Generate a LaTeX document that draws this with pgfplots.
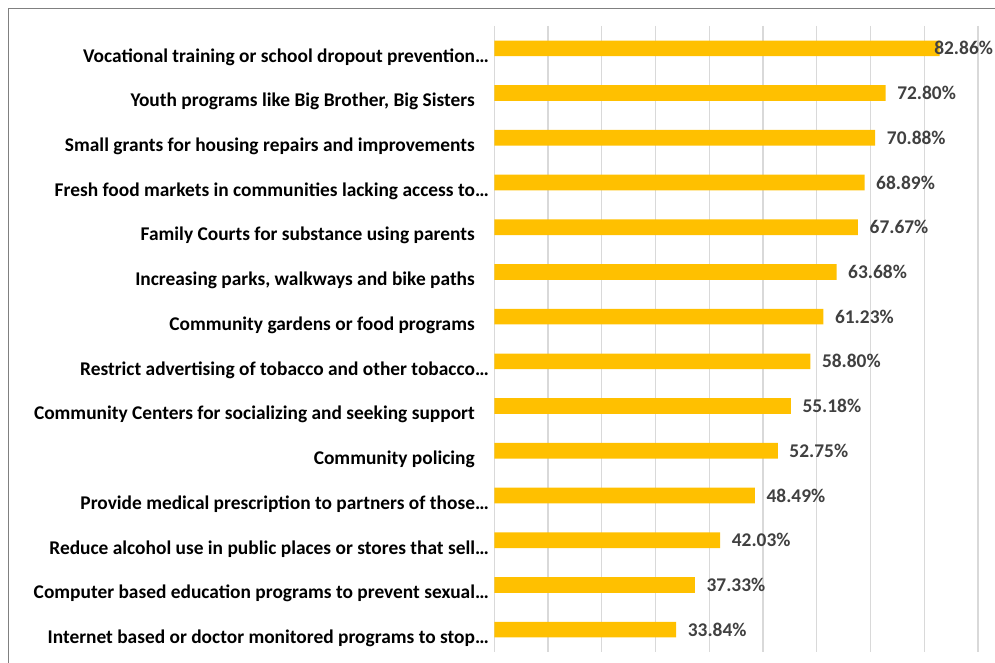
\documentclass[border=0pt]{standalone}
\usepackage{pgfplots}
\usepackage{pgfplotstable}
\pgfplotsset{compat=1.18}
\usepackage{fontspec}
\setmainfont{Carlito}

\definecolor{barGold}{HTML}{FFC000}
\definecolor{gridGray}{HTML}{D9D9D9}
\definecolor{labelGray}{HTML}{404040}
\definecolor{frameGray}{HTML}{808080}

% Share of respondents supporting each community program (%)
\pgfplotstableread[col sep=comma]{
idx,value
0,82.86
1,72.80
2,70.88
3,68.89
4,67.67
5,63.68
6,61.23
7,58.80
8,55.18
9,52.75
10,48.49
11,42.03
12,37.33
13,33.84
}\programs

\newcommand{\trail}{\kern14pt}

\begin{document}
\begin{tikzpicture}
\begin{axis}[
  scale only axis, width=483.7pt, height=626pt,
  xbar, bar width=15.7pt,
  xmin=0, xmax=90, ymin=-0.5, ymax=13.5, y dir=reverse,
  xtick={0,10,...,90}, xticklabels={},
  xmajorgrids, grid style={gridGray, line width=1.2pt},
  major tick length=0pt, tick style={draw=none},
  axis line style={draw=none},
  ytick={0,...,13},
  yticklabels={
    {Vocational training or school dropout prevention…},
    {Youth programs like Big Brother, Big Sisters\trail},
    {Small grants for housing repairs and improvements\trail},
    {Fresh food markets in communities lacking access to…},
    {Family Courts for substance using parents\trail},
    {Increasing parks, walkways and bike paths\trail},
    {Community gardens or food programs\trail},
    {Restrict advertising of tobacco and other tobacco…},
    {Community Centers for socializing and seeking support\trail},
    {Community policing\trail},
    {Provide medical prescription to partners of those…},
    {Reduce alcohol use in public places or stores that sell…},
    {Computer based education programs to prevent sexual…},
    {Internet based or doctor monitored programs to stop…}
  },
  yticklabel style={font=\fontsize{19.4}{23}\selectfont\bfseries, text=black,
    inner sep=0pt, anchor=east, xshift=-5.3pt, yshift=-8.5pt},
  /pgf/number format/assume math mode=true,
  point meta=x,
  nodes near coords={\pgfmathprintnumber[fixed, fixed zerofill, precision=2]{\pgfplotspointmeta}\%},
  every node near coord/.append style={font=\fontsize{19.4}{23}\selectfont\bfseries,
    text=labelGray, anchor=west, inner sep=0pt, xshift=11.5pt},
  coordinate style/.condition={x>80}{xshift=-17pt},
  clip=false,
]
\addplot[fill=barGold, draw=none] table[x=value, y=idx] {\programs};
% lower-left corner of the plot area
\coordinate (O) at (axis cs:0,13.5);
\end{axis}
% page frame, measured from the lower-left corner of the plot area
\pgfresetboundingbox
\begin{scope}[shift={(O)}, xshift=-494.3pt, yshift=-11pt, x=1pt, y=1pt]
  \path[use as bounding box] (0,0) rectangle (995,663);
  \draw[frameGray, line width=1.3pt] (8.5,-20) -- (8.5,654.3) -- (1020,654.3);
\end{scope}
\end{tikzpicture}
\end{document}
